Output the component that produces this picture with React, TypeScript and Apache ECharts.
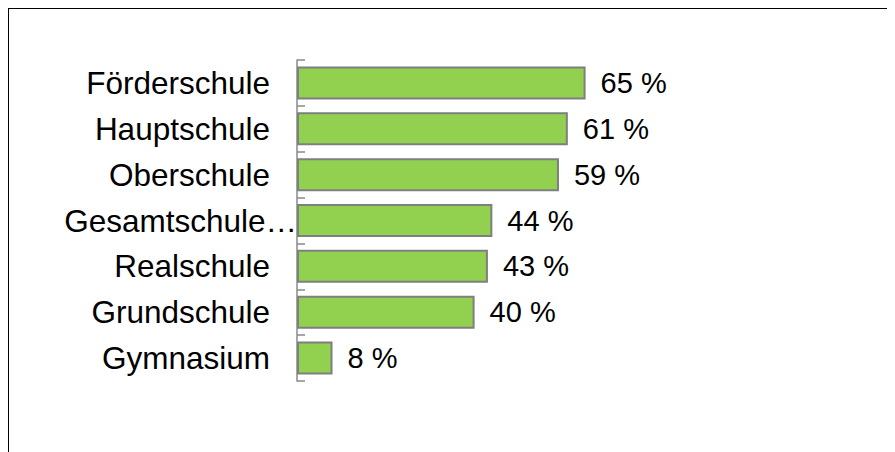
import React, { useEffect, useRef } from "react";
import * as echarts from "echarts";

const categories = [
  "Förderschule",
  "Hauptschule",
  "Oberschule",
  "Gesamtschule…",
  "Realschule",
  "Grundschule",
  "Gymnasium",
];
const values = [65, 61, 59, 44, 43, 40, 8];
const truncatedCategory = "Gesamtschule…";

export default function App() {
  const ref = useRef<HTMLDivElement>(null);

  useEffect(() => {
    if (!ref.current) return;
    const chart = echarts.init(ref.current, undefined, { renderer: "svg" });
    const font = "'Liberation Sans', Arial, sans-serif";
    chart.setOption({
      animation: false,
      backgroundColor: "#ffffff",
      grid: { left: 288, top: 51, width: 444, height: 321, containLabel: false },
      xAxis: {
        type: "value",
        min: 0,
        max: 100,
        show: false,
      },
      yAxis: {
        type: "category",
        data: categories,
        inverse: true,
        axisLine: { show: true, lineStyle: { color: "#8a8a8a", width: 1.5 } },
        axisTick: {
          show: true,
          inside: true,
          length: 8,
          lineStyle: { color: "#8a8a8a", width: 1.5 },
        },
        axisLabel: {
          margin: 0,
          color: "#000000",
          fontFamily: font,
          fontSize: 31.5,
          formatter: (v: string) => (v === truncatedCategory ? `{b|${v}}` : `{a|${v}}`),
          rich: {
            a: { padding: [0, 27, 0, 0], fontSize: 31.5, fontFamily: font, color: "#000" },
            b: { padding: [0, 0, 0, 0], fontSize: 31.5, fontFamily: font, color: "#000" },
          },
        },
      },
      series: [
        {
          type: "bar",
          data: values,
          barWidth: "72%",
          itemStyle: {
            color: "#92D050",
            borderColor: "#7f7f7f",
            borderWidth: 2,
          },
          label: {
            show: true,
            position: "right",
            distance: 15,
            color: "#000000",
            fontFamily: font,
            fontSize: 29,
            formatter: (p: any) => `${p.value} %`,
          },
        },
      ],
    });
    return () => chart.dispose();
  }, []);

  return (
    <div
      style={{
        marginTop: -1,
        marginLeft: -1,
        width: 888,
        height: 445,
        borderTop: "2px solid #000",
        borderLeft: "2px solid #000",
        boxSizing: "border-box",
        overflow: "hidden",
      }}
    >
      <div ref={ref} style={{ width: 886, height: 443 }} />
    </div>
  );
}
